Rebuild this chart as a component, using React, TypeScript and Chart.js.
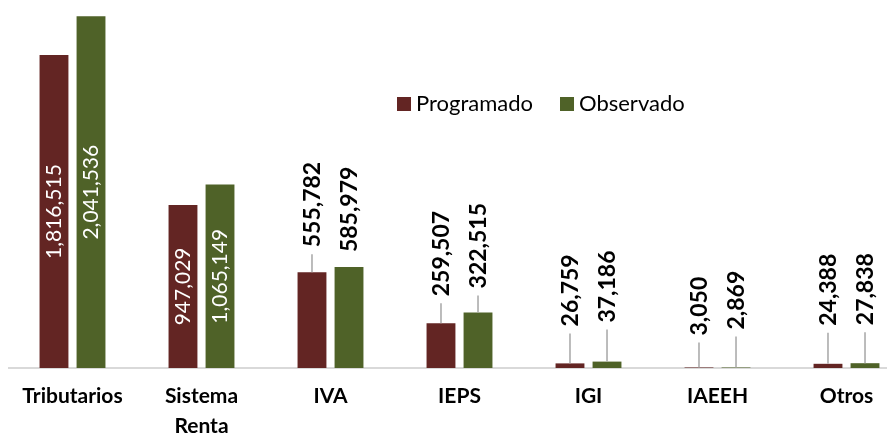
import React, { useEffect, useRef } from 'react';
import { Chart, registerables } from 'chart.js';

Chart.register(...registerables);

const categories: (string | string[])[] = ['Tributarios', ['Sistema', 'Renta'], 'IVA', 'IEPS', 'IGI', 'IAEEH', 'Otros'];
const programado = [1816515, 947029, 555782, 259507, 26759, 3050, 24388];
const observado = [2041536, 1065149, 585979, 322515, 37186, 2869, 27838];
const seriesNames = ['Programado', 'Observado'];
const seriesColors = ['#632523', '#4F6228'];

// label lift (px between bar top and label) for outside labels — styling
const labelGapProgramado = [0, 0, 25, 27, 37, 32, 38];
const labelGapObservado = [0, 0, 15, 24, 39, 38, 38];

const FONT = 'Lato';

const valueLabels = {
  id: 'valueLabels',
  afterDatasetsDraw(chart: any) {
    const ctx = chart.ctx;
    const fmt = new Intl.NumberFormat('en-US');
    chart.data.datasets.forEach((ds: any, di: number) => {
      const meta = chart.getDatasetMeta(di);
      const gaps = di === 0 ? labelGapProgramado : labelGapObservado;
      meta.data.forEach((bar: any, i: number) => {
        const v = ds.data[i];
        const { x, y, base } = bar.getProps(['x', 'y', 'base'], true);
        const h = base - y;
        const text = fmt.format(v);
        ctx.save();
        if (h > 150) {
          ctx.font = `400 21px ${FONT}`;
          ctx.fillStyle = '#ffffff';
          ctx.translate(x, (y + base) / 2);
          ctx.rotate(-Math.PI / 2);
          ctx.textAlign = 'center';
          ctx.textBaseline = 'middle';
          ctx.fillText(text, 0, 0);
        } else {
          const gap = gaps[i];
          const textBottom = y - gap;
          if (gap > 18) {
            ctx.strokeStyle = '#a6a6a6';
            ctx.lineWidth = 1.5;
            ctx.beginPath();
            ctx.moveTo(x, textBottom + 7);
            ctx.lineTo(x, y);
            ctx.stroke();
          }
          ctx.font = `700 23px ${FONT}`;
          ctx.fillStyle = '#000000';
          ctx.translate(x + 1, textBottom);
          ctx.rotate(-Math.PI / 2);
          ctx.textAlign = 'left';
          ctx.textBaseline = 'middle';
          ctx.fillText(text, 0, 0);
        }
        ctx.restore();
      });
    });
  },
};

const customLegend = {
  id: 'customLegend',
  afterDraw(chart: any, _args: any, opts: any) {
    const ctx = chart.ctx;
    ctx.save();
    ctx.font = `400 22px ${FONT}`;
    ctx.textBaseline = 'middle';
    ctx.textAlign = 'left';
    let x = opts.x;
    const y = opts.y;
    chart.data.datasets.forEach((ds: any) => {
      ctx.fillStyle = ds.backgroundColor;
      ctx.fillRect(x, y - 7, 14, 14);
      ctx.fillStyle = '#000000';
      ctx.fillText(ds.label, x + 19, y);
      x += 19 + ctx.measureText(ds.label).width + 27;
    });
    ctx.restore();
  },
};

export default function App() {
  const ref = useRef<HTMLCanvasElement | null>(null);
  useEffect(() => {
    if (!ref.current) return;
    const chart = new Chart(ref.current, {
      type: 'bar',
      data: {
        labels: categories as any,
        datasets: [
          {
            label: seriesNames[0],
            data: programado,
            backgroundColor: seriesColors[0],
            barPercentage: 0.78,
            categoryPercentage: 0.574,
          },
          {
            label: seriesNames[1],
            data: observado,
            backgroundColor: seriesColors[1],
            barPercentage: 0.78,
            categoryPercentage: 0.574,
          },
        ],
      },
      options: {
        animation: false,
        responsive: true,
        maintainAspectRatio: false,
        layout: { padding: 0 },
        plugins: {
          legend: { display: false },
          tooltip: { enabled: false },
          customLegend: { x: 389, y: 96 },
        } as any,
        scales: {
          x: {
            grid: { display: false, drawTicks: false },
            border: { display: true, color: '#d9d9d9', width: 2 },
            ticks: {
              color: '#000000',
              font: { family: FONT, weight: 'bold', size: 21, lineHeight: 1.4 },
              padding: 14,
              maxRotation: 0,
              autoSkip: false,
            },
            afterFit(scale: any) {
              scale.height = 67;
            },
          },
          y: { display: false, min: 0, max: 2090000 },
        },
      },
      plugins: [valueLabels, customLegend],
    });
    return () => chart.destroy();
  }, []);
  return (
    <div style={{ width: 887, height: 427, overflow: 'hidden', position: 'relative' }}>
      <div style={{ width: 903, height: 427, position: 'relative' }}>
        <canvas ref={ref} />
      </div>
    </div>
  );
}
